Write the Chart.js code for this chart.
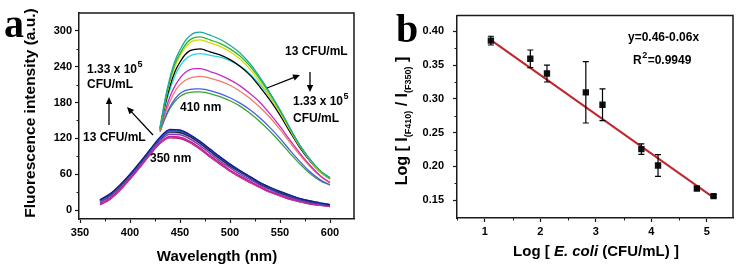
<!DOCTYPE html>
<html><head><meta charset="utf-8">
<script src="https://cdn.jsdelivr.net/npm/chart.js@4.4.0/dist/chart.umd.min.js"></script>
<style>
html,body{margin:0;padding:0;background:#fff;}
#wrap{position:relative;width:740px;height:269px;overflow:hidden;background:#fff;}
canvas{position:absolute;top:0;}
#ca{left:0;} #cb{left:370px;}
</style></head><body>
<div id="wrap"><canvas id="ca" width="370" height="269"></canvas><canvas id="cb" width="370" height="269"></canvas></div>
<script>
// ---------- Panel a data ----------
const xTicksA = [350, 400, 450, 500, 550, 600];
const yTicksA = [0, 60, 120, 180, 240, 300];
const xMinorA = [375, 425, 475, 525, 575];
const yMinorA = [30, 90, 150, 210, 270];

// wavelengths (nm)
const wl350 = [370,380,390,400,410,420,430,440,450,460,470,480,490,500,510,520,530,540,550,560,570,580,590,600];
const wl410 = [430,435,440,445,450,455,460,465,470,475,480,490,500,510,520,530,540,550,560,570,580,590,600];

// excitation 410 nm spectra (9 concentrations)
const f410_teal    = [138,185,222,250,268,283,292,297,298,296,293,286,276,263,245,222,196,168,137,108,85,66,53];
const f410_green   = [137,182,218,245,262,276,285,289,290,288,285,279,270,258,241,219,194,167,137,108,85,66,54];
const f410_yellow  = [136,180,215,241,258,271,280,284,285,283,280,274,265,253,236,214,190,163,134,106,83,64,52];
const f410_black   = [136,176,208,232,248,260,267,269,270,268,265,260,252,241,226,206,184,159,131,104,82,64,52];
const f410_cyan    = [135,172,202,225,241,252,258,261,262,261,259,256,250,241,228,210,189,164,136,108,85,66,54];
const f410_magenta = [134,165,190,208,221,230,235,237,237,235,232,226,218,208,195,180,161,140,117,95,75,58,46];
const f410_salmon  = [133,160,182,199,210,217,221,223,224,223,221,216,209,199,187,172,155,135,113,92,73,57,45];
const f410_blue    = [132,155,173,186,195,200,202,203,203,202,200,195,188,179,168,154,138,120,100,81,64,51,42];
const f410_green2  = [131,153,170,182,190,195,197,198,198,197,195,190,183,174,162,148,132,114,95,77,61,49,42];

// excitation 350 nm spectra (9 concentrations)
const f350_navy    = [17,27,42,60,80,101,122,135,134,126,115,102,89,77,66,56,46,38,31,25,19,15,12,9];
const f350_blue    = [16,26,41,59,79,100,120,133,132,125,114,101,88,76,65,55,45,37,30,24,19,15,11,9];
const f350_cyan    = [16,26,41,59,79,100,121,133,133,126,115,102,89,77,66,56,46,38,31,25,19,15,12,9];
const f350_black   = [15,25,40,58,78,99,119,131,130,123,112,99,86,74,64,54,44,36,29,23,18,14,11,8];
const f350_lblue   = [15,25,40,58,78,99,118,130,129,122,111,98,85,74,63,53,44,35,29,23,18,14,11,8];
const f350_purple  = [13,23,38,56,76,97,116,127,126,119,108,95,82,71,60,51,42,34,27,21,16,12,10,7];
const f350_magenta = [11,20,35,53,73,94,113,123,122,115,104,91,79,67,57,48,39,31,25,19,15,11,9,6];
const f350_pink    = [10,19,34,52,72,93,112,122,121,114,103,90,78,66,56,47,38,30,24,19,14,11,8,6];
const f350_violet  = [9,18,33,52,72,93,112,121,120,113,102,89,77,65,55,46,38,30,24,18,14,10,8,6];

// ---------- Panel b data ----------
const logConc  = [1.11, 1.82, 2.12, 2.82, 3.12, 3.82, 4.12, 4.82, 5.12];
const logRatio = [0.3864, 0.3595, 0.3376, 0.3098, 0.2914, 0.2256, 0.2013, 0.1673, 0.1560];
const ratioErr = [0.0065, 0.013, 0.0125, 0.0455, 0.0236, 0.0078, 0.016, 0.002, 0.002];
const fitX = [1.08, 5.14];
const fitY = [0.389, 0.1525];
const xTicksB = [1, 2, 3, 4, 5];
const yTicksB = [0.15, 0.20, 0.25, 0.30, 0.35, 0.40];
const xMinorB = [0.5, 1.5, 2.5, 3.5, 4.5];
const yMinorB = [0.175, 0.225, 0.275, 0.325, 0.375];

const SANS = '"Liberation Sans", Arial, sans-serif';
const SERIF = '"Liberation Serif", "Times New Roman", serif';
const AX = '#1a1a1a';

function pts(xs, ys){ return xs.map((x,i)=>({x:x, y:ys[i]})); }
function spec(xs, ys, color, w){
  return {data: pts(xs, ys), borderColor: color, backgroundColor: color, borderWidth: w || 1.3,
          pointRadius: 0, showLine: true, cubicInterpolationMode: 'monotone'};
}

function arrow(ctx, x1, y1, x2, y2){
  const a = Math.atan2(y2-y1, x2-x1), L = 7, W = 3.2;
  ctx.save();
  ctx.strokeStyle = '#000'; ctx.fillStyle = '#000'; ctx.lineWidth = 1.3;
  ctx.beginPath(); ctx.moveTo(x1,y1);
  ctx.lineTo(x2 - Math.cos(a)*L*0.8, y2 - Math.sin(a)*L*0.8); ctx.stroke();
  ctx.beginPath(); ctx.moveTo(x2,y2);
  ctx.lineTo(x2 - Math.cos(a)*L + Math.sin(a)*W, y2 - Math.sin(a)*L - Math.cos(a)*W);
  ctx.lineTo(x2 - Math.cos(a)*L - Math.sin(a)*W, y2 - Math.sin(a)*L + Math.cos(a)*W);
  ctx.closePath(); ctx.fill();
  ctx.restore();
}
function txt(ctx, s, x, y, font, align){
  ctx.font = font; ctx.textAlign = align || 'left'; ctx.textBaseline = 'middle'; ctx.fillStyle = '#000';
  ctx.fillText(s, x, y);
}
function supText(ctx, base, x, y, sup){
  ctx.font = 'bold 12px ' + SANS; ctx.textAlign='left'; ctx.textBaseline='middle'; ctx.fillStyle='#000';
  ctx.fillText(base, x, y);
  const w = ctx.measureText(base).width;
  ctx.font = 'bold 9px ' + SANS;
  ctx.fillText(sup, x + w + 0.5, y - 5);
  return w + ctx.measureText(sup).width + 0.5;
}
function frameAndMinor(ctx, chart, xMinor, yMinor){
  const a = chart.chartArea, xs = chart.scales.x, ys = chart.scales.y;
  ctx.save();
  ctx.strokeStyle = AX; ctx.lineWidth = 1.5;
  ctx.beginPath();
  ctx.moveTo(a.left, a.top); ctx.lineTo(a.right, a.top); ctx.lineTo(a.right, a.bottom);
  ctx.stroke();
  ctx.lineWidth = 1;
  ctx.beginPath();
  xMinor.forEach(v=>{ const p = Math.round(xs.getPixelForValue(v))+0.5; ctx.moveTo(p, a.bottom); ctx.lineTo(p, a.bottom+2.5); });
  yMinor.forEach(v=>{ const p = Math.round(ys.getPixelForValue(v))+0.5; ctx.moveTo(a.left, p); ctx.lineTo(a.left-2.5, p); });
  ctx.stroke();
  ctx.restore();
}
function richText(ctx, segs, cx, cy, rot){
  ctx.save();
  ctx.translate(cx, cy); if (rot) ctx.rotate(rot);
  ctx.textBaseline = 'alphabetic'; ctx.textAlign = 'left'; ctx.fillStyle = '#000';
  let tot = 0;
  segs.forEach(s=>{ ctx.font = s.f; s.w = ctx.measureText(s.t).width; tot += s.w; });
  let x = -tot/2;
  segs.forEach(s=>{ ctx.font = s.f; ctx.fillText(s.t, x, s.dy); x += s.w; });
  ctx.restore();
}

function axisCfg(min, max, tickVals, fmt, pad, opts){
  return Object.assign({
    type: 'linear', min: min, max: max,
    afterBuildTicks: s => { s.ticks = tickVals.map(v=>({value:v})); },
    ticks: { color: '#000', font: {family: SANS, size: 11, weight: 'bold'}, padding: pad,
             callback: fmt || (v => String(v)), maxRotation: 0, autoSkip: false },
    grid: { drawOnChartArea: false, drawTicks: true, tickLength: 4, tickWidth: 1.2, tickColor: AX },
    border: { display: true, color: AX, width: 1.5 },
    title: { display: false }
  }, opts || {});
}

// ---------- Panel a ----------
const pluginA = {
  id: 'pa',
  afterDraw(chart){
    const ctx = chart.ctx;
    frameAndMinor(ctx, chart, xMinorA, yMinorA);
    txt(ctx, 'Wavelength (nm)', 217, 257, 'bold 15px ' + SANS, 'center');
    ctx.save(); ctx.translate(31, 113); ctx.rotate(-Math.PI/2);
    txt(ctx, 'Fluorescence intensity (a.u.)', 0, 0, 'bold 15.5px ' + SANS, 'center');
    ctx.restore();
    ctx.font = 'bold 40px ' + SERIF; ctx.textAlign='left'; ctx.textBaseline='alphabetic'; ctx.fillStyle='#000';
    ctx.fillText('a', 4, 37);
    supText(ctx, '1.33 x 10', 87, 70, '5');
    txt(ctx, 'CFU/mL', 87, 85, 'bold 12px ' + SANS);
    arrow(ctx, 109, 125, 109, 97);
    txt(ctx, '13 CFU/mL', 83, 138, 'bold 12px ' + SANS);
    arrow(ctx, 153, 135, 127, 107);
    txt(ctx, '410 nm', 180, 108, 'bold 12px ' + SANS);
    txt(ctx, '350 nm', 150, 159, 'bold 12px ' + SANS);
    txt(ctx, '13 CFU/mL', 285, 52, 'bold 12px ' + SANS);
    arrow(ctx, 310, 72, 310, 92);
    arrow(ctx, 267, 88, 300, 75);
    supText(ctx, '1.33 x 10', 293, 102, '5');
    txt(ctx, 'CFU/mL', 293, 119, 'bold 12px ' + SANS);
  }
};

new Chart(document.getElementById('ca'), {
  type: 'scatter',
  data: { datasets: [
    spec(wl350, f350_navy, '#1c1c8a', 1.5),
    spec(wl350, f350_blue, '#3454d1', 1.5),
    spec(wl350, f350_cyan, '#2fd3e3', 1.5),
    spec(wl350, f350_black, '#222222', 1.5),
    spec(wl350, f350_lblue, '#7a92ee', 1.5),
    spec(wl350, f350_purple, '#8a3cb0', 1.5),
    spec(wl350, f350_magenta, '#c41fa4', 1.5),
    spec(wl350, f350_pink, '#e2449e', 1.5),
    spec(wl350, f350_violet, '#a0125e', 1.5),
    spec(wl410, f410_teal, '#1fa99c'),
    spec(wl410, f410_green, '#2fb52f'),
    spec(wl410, f410_yellow, '#d9d900'),
    spec(wl410, f410_black, '#000000'),
    spec(wl410, f410_cyan, '#27d8e0'),
    spec(wl410, f410_magenta, '#c92cc6'),
    spec(wl410, f410_salmon, '#f27a68'),
    spec(wl410, f410_blue, '#4c5ce0'),
    spec(wl410, f410_green2, '#35a535')
  ]},
  options: {
    responsive: false, animation: false, devicePixelRatio: 1,
    layout: { padding: { left: 0, right: 16, top: 13, bottom: 0 } },
    plugins: { legend: {display:false}, tooltip: {enabled:false} },
    scales: {
      x: axisCfg(349, 624, xTicksA, null, 3, { afterFit: s => { s.height = 50; } }),
      y: axisCfg(-15, 330, yTicksA, null, 3, { afterFit: s => { s.width = 79; } })
    }
  },
  plugins: [pluginA]
});

// ---------- Panel b ----------
const pluginB = {
  id: 'pb',
  afterDatasetsDraw(chart){
    const ctx = chart.ctx, xs = chart.scales.x, ys = chart.scales.y;
    ctx.save(); ctx.strokeStyle = '#000'; ctx.lineWidth = 1.2;
    ctx.beginPath();
    logConc.forEach((x,i)=>{
      const px = xs.getPixelForValue(x), t = ys.getPixelForValue(logRatio[i] + ratioErr[i]),
            b = ys.getPixelForValue(logRatio[i] - ratioErr[i]);
      ctx.moveTo(px, t); ctx.lineTo(px, b);
      ctx.moveTo(px-3, t); ctx.lineTo(px+3, t);
      ctx.moveTo(px-3, b); ctx.lineTo(px+3, b);
    });
    ctx.stroke(); ctx.restore();
  },
  afterDraw(chart){
    const ctx = chart.ctx;
    frameAndMinor(ctx, chart, xMinorB, yMinorB);
    const B = 'bold 15px ' + SANS, S = 'bold 9px ' + SANS;
    richText(ctx, [
      {t:'Log [ ', f:B, dy:0}, {t:'E. coli', f:'italic bold 15px ' + SANS, dy:0},
      {t:' (CFU/mL) ]', f:B, dy:0}], 226, 256, 0);
    richText(ctx, [
      {t:'Log [ I', f:'bold 16px ' + SANS, dy:0}, {t:'(F410)', f:S, dy:4},
      {t:' / I', f:'bold 16px ' + SANS, dy:0}, {t:'(F350)', f:S, dy:4},
      {t:' ]', f:'bold 16px ' + SANS, dy:0}], 37, 121, -Math.PI/2);
    ctx.font = 'bold 40px ' + SERIF; ctx.textAlign='left'; ctx.textBaseline='alphabetic'; ctx.fillStyle='#000';
    ctx.fillText('b', 26, 42);
    txt(ctx, 'y=0.46-0.06x', 258, 38, 'bold 12px ' + SANS);
    const wR = supText(ctx, 'R', 263, 61, '2');
    txt(ctx, '=0.9949', 263 + wR + 0.5, 61, 'bold 12px ' + SANS);
  }
};

new Chart(document.getElementById('cb'), {
  type: 'scatter',
  data: { datasets: [
    { data: pts(logConc, logRatio), pointStyle: 'rect', pointRadius: 4.5,
      backgroundColor: '#111', borderColor: '#111', borderWidth: 0, showLine: false },
    { data: pts(fitX, fitY), borderColor: '#c0272d', borderWidth: 2, pointRadius: 0, showLine: true }
  ]},
  options: {
    responsive: false, animation: false, devicePixelRatio: 1,
    layout: { padding: { left: 0, right: 7, top: 13, bottom: 0 } },
    plugins: { legend: {display:false}, tooltip: {enabled:false} },
    scales: {
      x: axisCfg(0.5, 5.47, xTicksB, null, 3, { afterFit: s => { s.height = 51; } }),
      y: axisCfg(0.1235, 0.4235, yTicksB, v => v.toFixed(2), 9, { afterFit: s => { s.width = 87; } })
    }
  },
  plugins: [pluginB]
});
</script>
</body></html>
